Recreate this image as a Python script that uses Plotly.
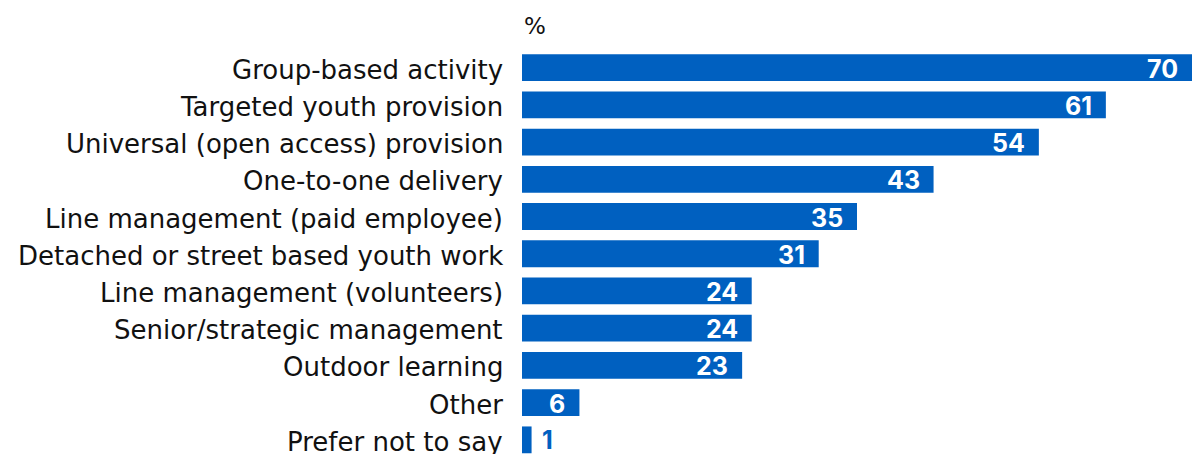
import plotly.graph_objects as go

categories = [
    "Group-based activity",
    "Targeted youth provision",
    "Universal (open access) provision",
    "One-to-one delivery",
    "Line management (paid employee)",
    "Detached or street based youth work",
    "Line management (volunteers)",
    "Senior/strategic management",
    "Outdoor learning",
    "Other",
    "Prefer not to say",
]
values = [70, 61, 54, 43, 35, 31, 24, 24, 23, 6, 1]
unit_label = "%"

BLUE = "#0060C0"
INK = "#111111"
LABEL_FONT = "DejaVu Sans, sans-serif"
VALUE_FONT = "Inter, sans-serif"

fig = go.Figure(
    go.Bar(
        x=values,
        y=categories,
        orientation="h",
        marker=dict(color=BLUE, line=dict(width=0)),
        width=0.72,
        hoverinfo="skip",
    )
)

# category names, right-aligned just left of the bars
for cat in categories:
    fig.add_annotation(
        x=0,
        y=cat,
        xref="x",
        yref="y",
        text=cat,
        showarrow=False,
        xanchor="right",
        xshift=-17,
        yshift=-2,
        font=dict(family=LABEL_FONT, size=26, color=INK),
    )

# value labels: white inside the bar end, blue beside very short bars
for cat, v in zip(categories, values):
    inside = v >= 4
    fig.add_annotation(
        x=v,
        y=cat,
        xref="x",
        yref="y",
        text=f"<b>{v}</b>",
        showarrow=False,
        xanchor="right" if inside else "left",
        xshift=-12 if inside else 8,
        yshift=-1 if inside else 0,
        font=dict(family=VALUE_FONT, size=25, color="white" if inside else BLUE),
    )

fig.add_annotation(
    x=0,
    y=1,
    xref="paper",
    yref="paper",
    text=unit_label,
    showarrow=False,
    xanchor="left",
    yanchor="bottom",
    yshift=8,
    font=dict(family=LABEL_FONT, size=23, color=INK),
)

fig.update_layout(
    width=1192,
    height=454,
    margin=dict(l=522, r=0, t=49, b=0),
    paper_bgcolor="white",
    plot_bgcolor="white",
    showlegend=False,
    font=dict(family=LABEL_FONT, size=26, color=INK),
    xaxis=dict(
        range=[0, 70],
        visible=False,
        fixedrange=True,
    ),
    yaxis=dict(
        type="category",
        range=[10.38, -0.5],
        autorange=False,
        showgrid=False,
        showline=False,
        zeroline=False,
        ticks="",
        showticklabels=False,
        fixedrange=True,
    ),
)

fig.write_html("out.html")
